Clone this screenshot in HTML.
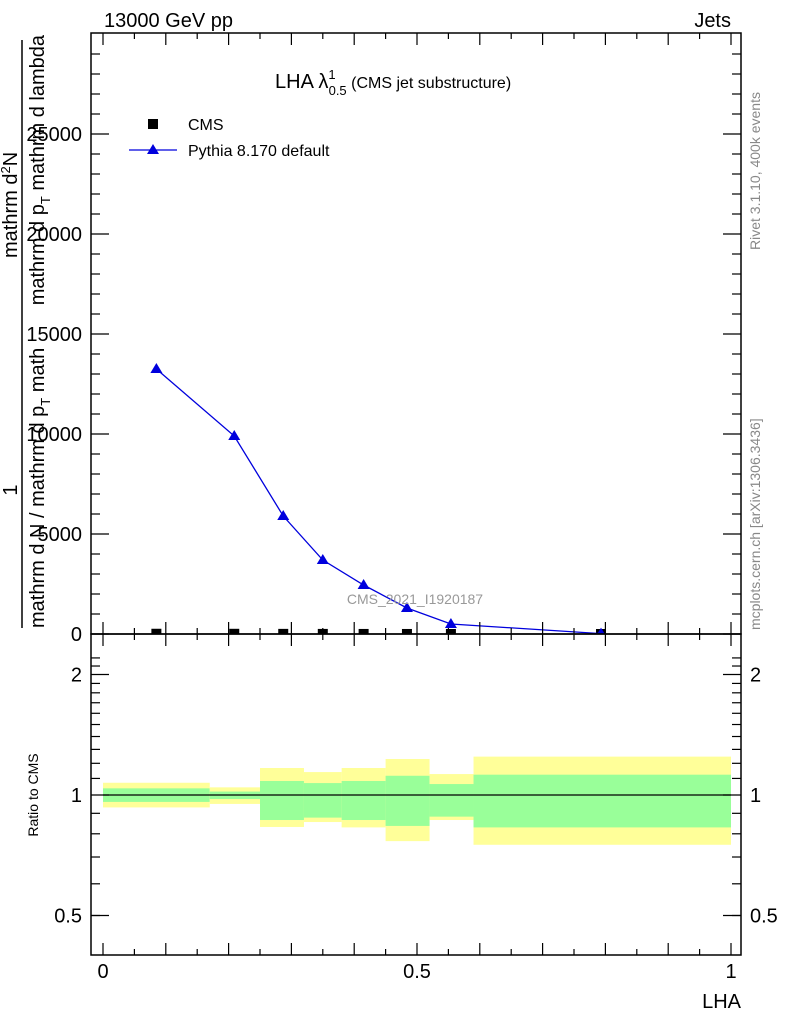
<!DOCTYPE html>
<html><head><meta charset="utf-8"><style>
body{margin:0;background:#fff;}
svg{display:block;font-family:"Liberation Sans",sans-serif;}
</style></head><body>
<svg id="chart" width="786" height="1024" viewBox="0 0 786 1024" xmlns="http://www.w3.org/2000/svg">
<g id="ratio-bands"></g>
<g id="main-marks"></g>
<g id="axes"></g>
<text x="104" y="27" font-size="20">13000 GeV pp</text>
<text x="731" y="27" font-size="20" text-anchor="end">Jets</text>
<text x="275" y="88" font-size="20">LHA λ<tspan font-size="13" dy="-9">1</tspan><tspan font-size="13" dx="-7" dy="16">0.5</tspan><tspan font-size="16" dy="-7"> (CMS jet substructure)</tspan></text>
<rect x="148" y="119" width="10" height="10" fill="#000"/>
<text x="188" y="130" font-size="16">CMS</text>
<line x1="129" y1="150" x2="177" y2="150" stroke="#0000dd" stroke-width="1.3"/>
<polygon points="153,144 147,154 159,154" fill="#0000dd"/>
<text x="188" y="156" font-size="16">Pythia 8.170 default</text>
<text x="415" y="604" font-size="14" fill="#999" text-anchor="middle">CMS_2021_I1920187</text>
<text transform="translate(760,250) rotate(-90)" font-size="14" fill="#888">Rivet 3.1.10,  400k events</text>
<text transform="translate(760,630) rotate(-90)" font-size="14" fill="#888">mcplots.cern.ch [arXiv:1306.3436]</text>
<g font-size="20">
<text transform="translate(17,490) rotate(-90)" text-anchor="middle">1</text>
<line x1="22" y1="40" x2="22" y2="628" stroke="#000" stroke-width="1.5"/>
<text transform="translate(17,258) rotate(-90)" text-anchor="start">mathrm d<tspan font-size="13" dy="-7">2</tspan><tspan dy="7">N</tspan></text>
<text transform="translate(44,35) rotate(-90)" text-anchor="end">mathrm d p<tspan font-size="13" dy="6">T</tspan><tspan dy="-6"> mathrm d lambda</tspan></text>
<text transform="translate(44,628) rotate(-90)" text-anchor="start">mathrm d N / mathrm d p<tspan font-size="13" dy="6">T</tspan><tspan dy="-6"> math</tspan></text>
</g>
<text transform="translate(38,795) rotate(-90)" font-size="14" text-anchor="middle">Ratio to CMS</text>
<text x="741" y="1008" font-size="20" text-anchor="end">LHA</text>
</svg>
<script>
const binEdges=[0,0.17,0.25,0.32,0.38,0.45,0.52,0.59,1.0];
const xVals=[0.085,0.209,0.287,0.35,0.415,0.484,0.554,0.793];
const pythiaVals=[13250,9900,5900,3700,2450,1300,500,20];
const cmsVals=[12,10,6,4,2.5,1.3,0.5,0.02];
const yellowHi=[1.073,1.045,1.168,1.141,1.168,1.23,1.128,1.247];
const yellowLo=[0.931,0.95,0.832,0.856,0.83,0.767,0.866,0.751];
const greenHi=[1.039,1.02,1.084,1.071,1.084,1.117,1.065,1.124];
const greenLo=[0.961,0.977,0.866,0.878,0.866,0.837,0.883,0.83];
const yTicks=[0,5000,10000,15000,20000,25000];
const rTicks=[0.5,1,2];
const xTicks=[0,0.5,1];

const NS="http://www.w3.org/2000/svg";
const L=91,R=741,T=33,MB=634,RB=955;
const X=v=>103+v*628;
const Y=v=>634-v*0.02;
const RY=v=>795-Math.log2(v)*120.5;
function mk(tag,attrs,parent){const e=document.createElementNS(NS,tag);for(const k in attrs)e.setAttribute(k,attrs[k]);parent.appendChild(e);return e;}
const bands=document.getElementById('ratio-bands');
const marks=document.getElementById('main-marks');
const axes=document.getElementById('axes');

for(let i=0;i<xVals.length;i++){
  const x0=X(binEdges[i]),x1=X(binEdges[i+1]);
  const y=mk('rect',{x:x0,y:RY(yellowHi[i]),width:x1-x0,height:RY(yellowLo[i])-RY(yellowHi[i]),fill:'#ffff99'},bands);
  
  
  const g=mk('rect',{x:x0,y:RY(greenHi[i]),width:x1-x0,height:RY(greenLo[i])-RY(greenHi[i]),fill:'#99ff99'},bands);
  
  
}
const rl=mk('line',{x1:X(0),x2:X(1),y1:RY(1),y2:RY(1),stroke:'#000','stroke-width':1.2},bands);



const cpath=mk('clipPath',{id:'clipMain'},marks);
mk('rect',{x:L,y:T,width:R-L,height:MB-T},cpath);
for(let i=0;i<xVals.length;i++){
  const s=mk('rect',{x:X(xVals[i])-5,y:Y(cmsVals[i])-5,width:10,height:10,fill:'#000','clip-path':'url(#clipMain)'},marks);
  
  
}
const pl=mk('polyline',{points:xVals.map((v,i)=>X(v)+','+Y(pythiaVals[i])).join(' '),fill:'none',stroke:'#0000dd','stroke-width':1.3},marks);


for(let i=0;i<xVals.length;i++){
  const x=X(xVals[i]),y=Y(pythiaVals[i]);
  const t=mk('polygon',{points:`${x},${y-6} ${x-6},${y+4} ${x+6},${y+4}`,fill:'#0000dd','clip-path':'url(#clipMain)'},marks);
  
  
}

const st={stroke:'#000','stroke-width':1.5,fill:'none'};
mk('rect',Object.assign({x:L,y:T,width:R-L,height:MB-T},st),axes);
mk('rect',Object.assign({x:L,y:MB,width:R-L,height:RB-MB},st),axes);
const tk={stroke:'#000','stroke-width':1.2};
for(let k=0;k<=20;k++){
  const v=k*0.05,x=X(v),len=(k%2===0)?12:6;
  mk('line',Object.assign({x1:x,x2:x,y1:T,y2:T+len},tk),axes);
  mk('line',Object.assign({x1:x,x2:x,y1:MB-len,y2:MB+len},tk),axes);
  mk('line',Object.assign({x1:x,x2:x,y1:RB,y2:RB-len},tk),axes);
}
xTicks.forEach(v=>{const t=mk('text',{x:X(v),y:978,'font-size':20,'text-anchor':'middle'},axes);t.textContent=String(v);
  
  });
for(let v=0;v<=29000;v+=1000){
  const y=Y(v),len=v%5000===0?18:9;
  mk('line',Object.assign({x1:L,x2:L+len,y1:y,y2:y},tk),axes);
  mk('line',Object.assign({x1:R,x2:R-len,y1:y,y2:y},tk),axes);
}
yTicks.forEach(v=>{const t=mk('text',{x:82,y:Y(v)+7,'font-size':20,'text-anchor':'end'},axes);t.textContent=String(v);
  
  });
const rmin=[0.5,0.6,0.7,0.8,0.9,1.1,1.2,1.3,1.4,1.5,1.6,1.7,1.8,1.9,2.1,2.2];
rmin.forEach(v=>{const y=RY(v);if(y<MB||y>RB)return;
  mk('line',Object.assign({x1:L,x2:L+9,y1:y,y2:y},tk),axes);
  mk('line',Object.assign({x1:R,x2:R-9,y1:y,y2:y},tk),axes);});
rTicks.forEach(v=>{const y=RY(v);
  mk('line',Object.assign({x1:L,x2:L+18,y1:y,y2:y},tk),axes);
  mk('line',Object.assign({x1:R,x2:R-18,y1:y,y2:y},tk),axes);
  const a=mk('text',{x:82,y:y+7,'font-size':20,'text-anchor':'end'},axes);a.textContent=String(v);
  
  
  const b=mk('text',{x:750,y:y+7,'font-size':20},axes);b.textContent=String(v);
  
  });
</script>
</body></html>
